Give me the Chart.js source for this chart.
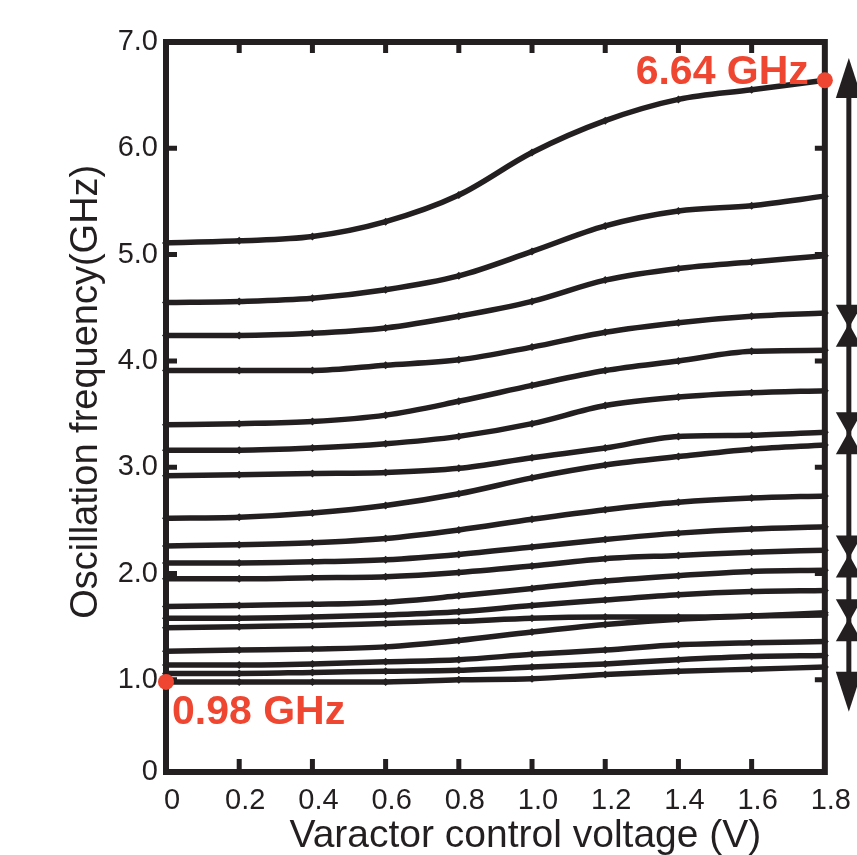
<!DOCTYPE html>
<html><head><meta charset="utf-8">
<script src="https://cdn.jsdelivr.net/npm/chart.js@4.4.1/dist/chart.umd.min.js"></script>
<style>html,body{margin:0;padding:0;background:#fff;overflow:hidden}</style>
</head><body><canvas id="c" width="857" height="855"></canvas>
<script>
// ---------- data ----------
const VOLTAGES = [0, 0.2, 0.4, 0.6, 0.8, 1.0, 1.2, 1.4, 1.6, 1.8];
const X_TICK_LABELS = ['0', '0.2', '0.4', '0.6', '0.8', '1.0', '1.2', '1.4', '1.6', '1.8'];
const Y_TICK_VALUES = [1, 2, 3, 4, 5, 6, 7];
const Y_TICK_LABELS = ['1.0', '2.0', '3.0', '4.0', '5.0', '6.0', '7.0'];
const Y_MIN = 0.133;
const Y_MIN_LABEL = '0';
const X_TITLE = 'Varactor control voltage (V)';
const Y_TITLE = 'Oscillation frequency(GHz)';

const c1  = [5.11, 5.13, 5.17, 5.31, 5.56, 5.96, 6.26, 6.46, 6.55, 6.64];
const c2  = [4.55, 4.56, 4.59, 4.67, 4.80, 5.03, 5.27, 5.41, 5.46, 5.55];
const c3  = [4.24, 4.24, 4.26, 4.31, 4.42, 4.56, 4.76, 4.87, 4.93, 4.99];
const c4  = [3.91, 3.91, 3.91, 3.96, 4.01, 4.13, 4.27, 4.36, 4.42, 4.45];
const c5  = [3.40, 3.41, 3.43, 3.49, 3.62, 3.77, 3.91, 4.00, 4.09, 4.10];
const c6  = [3.16, 3.16, 3.18, 3.22, 3.29, 3.41, 3.58, 3.66, 3.70, 3.72];
const c7  = [2.92, 2.93, 2.94, 2.95, 2.99, 3.09, 3.18, 3.29, 3.30, 3.33];
const c8  = [2.52, 2.53, 2.57, 2.64, 2.75, 2.90, 3.02, 3.10, 3.17, 3.21];
const c9  = [2.26, 2.27, 2.29, 2.33, 2.41, 2.51, 2.60, 2.67, 2.71, 2.73];
const c10 = [2.10, 2.10, 2.11, 2.13, 2.18, 2.25, 2.32, 2.38, 2.42, 2.44];
const c11 = [1.95, 1.95, 1.96, 1.97, 2.01, 2.07, 2.14, 2.17, 2.20, 2.22];
const c12 = [1.69, 1.70, 1.71, 1.73, 1.79, 1.86, 1.93, 1.98, 2.02, 2.03];
const c13 = [1.58, 1.58, 1.59, 1.61, 1.64, 1.70, 1.75, 1.80, 1.83, 1.84];
const c14 = [1.49, 1.50, 1.51, 1.53, 1.55, 1.58, 1.59, 1.59, 1.60, 1.61];
const c15 = [1.27, 1.28, 1.29, 1.31, 1.37, 1.45, 1.52, 1.57, 1.60, 1.63];
const c16 = [1.14, 1.14, 1.15, 1.17, 1.19, 1.24, 1.28, 1.33, 1.35, 1.36];
const c17 = [1.06, 1.06, 1.07, 1.08, 1.09, 1.12, 1.15, 1.19, 1.22, 1.23];
const c18 = [0.98, 0.98, 0.98, 0.98, 1.00, 1.01, 1.05, 1.08, 1.10, 1.12];
const CURVES = [c1, c2, c3, c4, c5, c6, c7, c8, c9, c10, c11, c12, c13, c14, c15, c16, c17, c18];

const MARK_X = [0, 1.8];
const MARK_Y = [0.98, 6.64];
const MARK_LABELS = ['0.98 GHz', '6.64 GHz'];

const RANGE_ENDS = [6.85, 0.70];
const RANGE_BOUNDARIES = [4.33, 3.32, 2.16, 1.56];

// ---------- style ----------
const INK = '#231f20';
const RED = '#ef4631';
const FONT = '"Liberation Sans", Arial, Helvetica, sans-serif';

const framePlugin = {
  id: 'frame',
  beforeDatasetsDraw(chart) {
    const {ctx, chartArea: {left, right, top, bottom}, scales: {x, y}} = chart;
    ctx.save();
    ctx.strokeStyle = INK;
    ctx.lineWidth = 6;
    ctx.strokeRect(left, top, right - left, bottom - top);
    ctx.lineWidth = 5;
    ctx.beginPath();
    VOLTAGES.slice(1, -1).forEach(v => {
      const px = x.getPixelForValue(v);
      ctx.moveTo(px, top); ctx.lineTo(px, top + 11);
      ctx.moveTo(px, bottom); ctx.lineTo(px, bottom - 13);
    });
    Y_TICK_VALUES.slice(0, -1).forEach(v => {
      const py = y.getPixelForValue(v);
      ctx.moveTo(left, py); ctx.lineTo(left + 11, py);
      ctx.moveTo(right, py); ctx.lineTo(right - 10, py);
    });
    ctx.stroke();
    // axis titles
    ctx.fillStyle = INK;
    ctx.font = '39px ' + FONT;
    ctx.textAlign = 'center';
    ctx.textBaseline = 'alphabetic';
    ctx.fillText(X_TITLE, (left + right) / 2 + 30, bottom + 75);
    ctx.textBaseline = 'middle';
    ctx.translate(87, y.getPixelForValue(3.71));
    ctx.rotate(-Math.PI / 2);
    ctx.font = '38px ' + FONT;
    ctx.fillText(Y_TITLE, 0, 0);
    ctx.restore();
  },
  afterDatasetsDraw(chart) {
    const {ctx, chartArea: {right}, scales: {x, y}} = chart;
    ctx.save();
    // red labels
    ctx.fillStyle = RED;
    ctx.font = 'bold 41px ' + FONT;
    ctx.textBaseline = 'alphabetic';
    const p0x = x.getPixelForValue(MARK_X[0]), p0y = y.getPixelForValue(MARK_Y[0]);
    ctx.textAlign = 'left';
    ctx.fillText(MARK_LABELS[0], p0x + 6, p0y + 42);
    const p1x = x.getPixelForValue(MARK_X[1]), p1y = y.getPixelForValue(MARK_Y[1]);
    ctx.textAlign = 'right';
    ctx.fillText(MARK_LABELS[1], p1x - 16, p1y + 4);
    // range arrow
    const ax = right + 24;
    const yTop = y.getPixelForValue(RANGE_ENDS[0]);
    const yBot = y.getPixelForValue(RANGE_ENDS[1]);
    ctx.strokeStyle = INK;
    ctx.fillStyle = INK;
    ctx.lineWidth = 5;
    ctx.beginPath();
    ctx.moveTo(ax, yTop + 10); ctx.lineTo(ax, yBot - 10);
    ctx.stroke();
    const tri = (tipY, baseY, hw) => {
      ctx.beginPath();
      ctx.moveTo(ax, tipY);
      ctx.lineTo(ax - hw, baseY);
      ctx.lineTo(ax + hw, baseY);
      ctx.closePath();
      ctx.fill();
    };
    tri(yTop, yTop + 40, 13);
    tri(yBot, yBot - 40, 13);
    RANGE_BOUNDARIES.forEach(v => {
      const cy = y.getPixelForValue(v);
      tri(cy + 2, cy - 21, 13);
      tri(cy - 2, cy + 21, 13);
    });
    ctx.restore();
  }
};

const datasets = [{
  type: 'scatter',
  data: MARK_X.map((v, i) => ({x: v, y: MARK_Y[i]})),
  backgroundColor: RED,
  borderColor: RED,
  borderWidth: 0,
  pointRadius: 8,
  clip: false
}].concat(CURVES.map(vals => ({
  data: vals.map((v, i) => ({x: VOLTAGES[i], y: v})),
  borderColor: INK,
  backgroundColor: INK,
  borderWidth: 5.5,
  pointStyle: 'rectRot',
  pointRadius: 4,
  pointBorderWidth: 0,
  cubicInterpolationMode: 'monotone',
  fill: false,
  clip: false
})));

new Chart(document.getElementById('c'), {
  type: 'line',
  data: {datasets},
  options: {
    responsive: false,
    animation: false,
    events: [],
    layout: {padding: {top: 42, right: 27, left: 0, bottom: 0}},
    plugins: {legend: {display: false}, tooltip: {enabled: false}, title: {display: false}},
    scales: {
      x: {
        type: 'linear', min: 0, max: 1.8,
        grid: {display: false, drawTicks: false}, border: {display: false},
        afterBuildTicks: s => { s.ticks = VOLTAGES.map(v => ({value: v})); },
        ticks: {
          callback: (v, i) => X_TICK_LABELS[i],
          font: {size: 29, family: FONT}, color: INK, padding: 12,
          maxRotation: 0, autoSkip: false, labelOffset: 6
        },
        afterFit: s => { s.height = 83; }
      },
      y: {
        type: 'linear', min: Y_MIN, max: 7,
        grid: {display: false, drawTicks: false}, border: {display: false},
        afterBuildTicks: s => { s.ticks = [{value: Y_MIN}].concat(Y_TICK_VALUES.map(v => ({value: v}))); },
        ticks: {
          callback: (v, i) => (i === 0 ? Y_MIN_LABEL : Y_TICK_LABELS[i - 1]),
          font: {size: 29, family: FONT}, color: INK, padding: 8, autoSkip: false
        },
        afterFit: s => { s.width = 166; }
      }
    }
  },
  plugins: [framePlugin]
});
</script>
</body></html>
